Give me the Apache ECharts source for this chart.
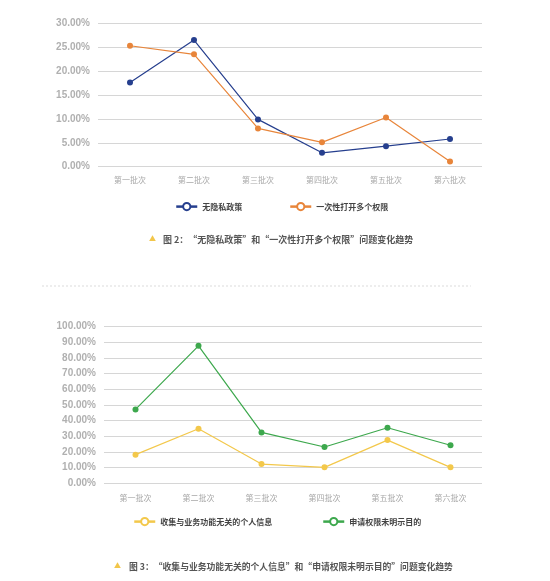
<!DOCTYPE html>
<html><head><meta charset="utf-8">
<script src="https://cdn.jsdelivr.net/npm/echarts@6/dist/echarts.min.js"></script>
<style>html,body{margin:0;padding:0;background:#fff}#c{width:550px;height:581px}</style>
</head><body><div id="c"></div>
<script>
const categories = ['第一批次','第二批次','第三批次','第四批次','第五批次','第六批次'];
const noPrivacyPolicy = [17.6, 26.5, 9.9, 2.9, 4.3, 5.8];
const openManyPerms = [25.3, 23.5, 8.0, 5.1, 10.3, 1.1];
const collectIrrelevant = [18.3, 34.8, 12.3, 10.2, 27.6, 10.2];
const unstatedPurpose = [47.2, 87.8, 32.5, 23.2, 35.5, 24.3];
const topTicks = { min: 0, max: 30, interval: 5 };
const bottomTicks = { min: 0, max: 100, interval: 10 };
const names = ['无隐私政策','一次性打开多个权限','收集与业务功能无关的个人信息','申请权限未明示目的'];
const captions = ['图 2：“无隐私政策”和“一次性打开多个权限”问题变化趋势',
                  '图 3：“收集与业务功能无关的个人信息”和“申请权限未明示目的”问题变化趋势'];
const colors = ['#263f8e','#e8853a','#f3c84b','#3da84d'];

const FONT = '"Noto Sans CJK SC", "Liberation Sans", sans-serif';
const chart = echarts.init(document.getElementById('c'));

function yAxis(gi, t){
  return {type:'value', gridIndex:gi, min:t.min, max:t.max, interval:t.interval,
    axisLine:{show:false}, axisTick:{show:false},
    axisLabel:{formatter:v=>v.toFixed(2)+'%', color:'#b0b0b0', fontSize:10, fontWeight:'bold', fontFamily:'"Liberation Sans", sans-serif', margin:8},
    splitLine:{lineStyle:{color:'#d6d6d6', width:1}}};
}
function xAxis(gi, margin){
  return {type:'category', gridIndex:gi, data:categories, boundaryGap:true,
    axisLine:{show:false}, axisTick:{show:false},
    axisLabel:{color:'#a8a8a8', fontSize:8, fontFamily:FONT, margin:margin}};
}
function series(i, gi, data){
  return {type:'line', name:names[i], xAxisIndex:gi, yAxisIndex:gi, data:data,
    symbol:'circle', symbolSize:6, color:colors[i],
    lineStyle:{width:1.2, color:colors[i]}, itemStyle:{color:colors[i]}};
}
function legend(i, left, top){
  return {data:[names[i]], left:left, top:top, itemWidth:21, itemHeight:9, itemGap:9,
    itemStyle:{color:'#fff', borderColor:colors[i], borderWidth:2},
    lineStyle:{width:2.5, color:colors[i]},
    textStyle:{fontSize:8, color:'#444', fontFamily:FONT, fontWeight:'bold'}};
}

chart.setOption({
  animation:false,
  grid:[
    {left:98, right:68, top:23.3, bottom:414.3},
    {left:104, right:68, top:326.7, bottom:97.7}
  ],
  xAxis:[xAxis(0, 9), xAxis(1, 11)],
  yAxis:[yAxis(0, topTicks), yAxis(1, bottomTicks)],
  legend:[legend(0,170,197), legend(1,284,197), legend(2,128,512), legend(3,317,512)],
  series:[
    series(0,0,noPrivacyPolicy), series(1,0,openManyPerms),
    series(2,1,collectIrrelevant), series(3,1,unstatedPurpose)
  ],
  graphic:[
    {type:'text', left:149, top:235, style:{text:'▲', fill:'#f2c64a', font:'7px '+FONT}},
    {type:'text', left:163, top:235, style:{text:captions[0], fill:'#555', font:'bold 9px '+FONT}},
    {type:'line', shape:{x1:42, y1:286, x2:471, y2:286}, style:{stroke:'#e2e2e2', lineWidth:1.2, lineDash:[2,2]}},
    {type:'text', left:114, top:562, style:{text:'▲', fill:'#f2c64a', font:'7px '+FONT}},
    {type:'text', left:129, top:562, style:{text:captions[1], fill:'#555', font:'bold 8.8px '+FONT}}
  ]
});
</script></body></html>
